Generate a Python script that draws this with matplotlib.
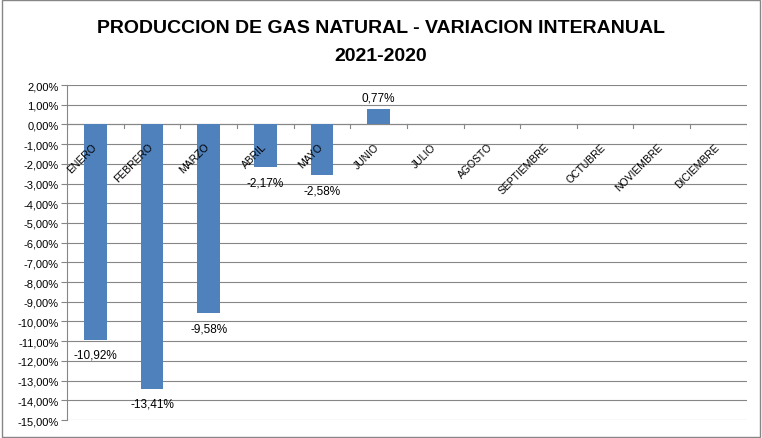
import matplotlib.pyplot as plt
import numpy as np
from matplotlib.patches import Rectangle

############################
# Data
############################

months = ["ENERO", "FEBRERO", "MARZO", "ABRIL", "MAYO", "JUNIO",
          "JULIO", "AGOSTO", "SEPTIEMBRE", "OCTUBRE", "NOVIEMBRE", "DICIEMBRE"]
variation = [-10.92, -13.41, -9.58, -2.17, -2.58, 0.77,
             None, None, None, None, None, None]
y_ticks = list(range(-15, 3))

BAR_BLUE = "#4F81BD"
GRID_GREY = "#868686"

plt.rcParams["font.family"] = ["Liberation Sans", "DejaVu Sans"]

fig = plt.figure(figsize=(7.62, 4.39), dpi=100)
ax = fig.add_axes([0.088, 0.041, 0.892, 0.763])

x = np.arange(len(months))
vals = [v if v is not None else 0 for v in variation]
has = [v is not None for v in variation]

ax.bar(x[has], np.array(vals)[has], width=0.4, color=BAR_BLUE, zorder=3)

ax.set_xlim(-0.5, len(months) - 0.5)
ax.set_ylim(-15, 2)
ax.set_yticks(y_ticks)
ax.set_yticklabels([f"{t:,.2f}%".replace(".", ",") for t in y_ticks], fontsize=8)
ax.yaxis.grid(True, color=GRID_GREY, linewidth=0.8, zorder=0)
ax.set_xticks([])

for s in ["top", "right", "bottom"]:
    ax.spines[s].set_visible(False)
ax.spines["left"].set_color(GRID_GREY)
ax.tick_params(axis="y", color=GRID_GREY, length=4, pad=2)

# zero axis with category ticks
ax.axhline(0, color=GRID_GREY, linewidth=0.8, zorder=2)
for b in np.arange(-0.5, len(months)):
    ax.plot([b, b], [0, -0.2], color=GRID_GREY, linewidth=0.8, zorder=2)

# category labels under the zero line
for xi, m in zip(x, months):
    ax.text(xi + 0.05, -0.85, m, rotation=45, ha="right", va="top", fontsize=7.5)

# data labels
for xi, v in zip(x, variation):
    if v is None:
        continue
    txt = f"{v:.2f}%".replace(".", ",")
    if v < 0:
        ax.text(xi, v - 0.45, txt, ha="center", va="top", fontsize=8.5)
    else:
        ax.text(xi, v + 0.3, txt, ha="center", va="bottom", fontsize=8.5)

fig.text(0.5, 0.935, "PRODUCCION DE GAS NATURAL - VARIACION INTERANUAL",
         ha="center", va="center", fontsize=14, fontweight="bold")
fig.text(0.5, 0.872, "2021-2020", ha="center", va="center",
         fontsize=14, fontweight="bold")

fig.patches.append(Rectangle((0.002, 0.003), 0.996, 0.994, transform=fig.transFigure,
                             fill=False, edgecolor=GRID_GREY, linewidth=1))

fig.savefig("out.png", dpi=100)
